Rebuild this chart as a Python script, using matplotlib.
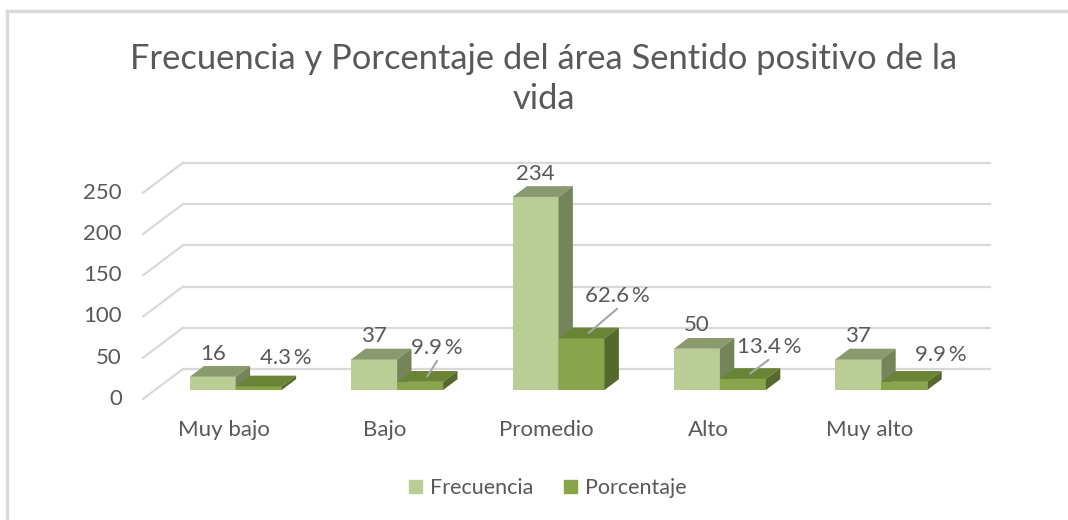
import numpy as np
import matplotlib
matplotlib.use('Agg')
import matplotlib.pyplot as plt
from matplotlib.patches import Polygon, Patch
from matplotlib.lines import Line2D

# data
categorias = ['Muy bajo', 'Bajo', 'Promedio', 'Alto', 'Muy alto']
frecuencia = [16, 37, 234, 50, 37]
porcentaje = [4.3, 9.9, 62.6, 13.4, 9.9]
ticks_y = [0, 50, 100, 150, 200, 250]
titulo = 'Frecuencia y Porcentaje del área Sentido positivo de la\nvida'

plt.rcParams['font.family'] = ['Lato', 'DejaVu Sans']
gris = '#595959'
grid_c = '#d9d9d9'

W, H = 1068, 520
fig = plt.figure(figsize=(W / 100, H / 100), dpi=100)
ax = fig.add_axes([0, 0, 1, 1])

# pixel mapping of the front floor: x=-0.5 at px 143, 161.4 px per category
# y=0 at px 399 (from top), 0.825 px per unit
px_cat, x0px = 161.4, 143
px_val, y0px = 0.825, 399
ax.set_xlim((0 - x0px) / px_cat - 0.5, (W - x0px) / px_cat - 0.5)
ax.set_ylim((y0px - H) / px_val, y0px / px_val)
ax.axis('off')

# depth of the floor
Dx, Dy = 40 / px_cat, 30 / px_val
n = len(categorias)

# walls / gridlines
for v in ticks_y:
    ax.plot([-0.5 + Dx, n - 0.5 + Dx], [v + Dy, v + Dy], color=grid_c, lw=1.6, zorder=1)
    ax.plot([-0.5, -0.5 + Dx], [v, v + Dy], color=grid_c, lw=1.6, zorder=1)
    ax.text(-0.63, v, str(v), ha='right', va='center', fontsize=16, color=gris)

# bars
f0, fb = 0.3, 0.36
w = 46 / px_cat
c_freq = ('#b9cd94', '#8a9a6e', '#76845a')
c_pct = ('#88a54c', '#6a8436', '#56692c')


def bar3d(xl, h, cols):
    xr = xl + w
    y0 = f0 * Dy
    bx, by = fb * Dx, fb * Dy
    ax.bar(xl, h, width=w, bottom=y0, align='edge', color=cols[0], lw=0, zorder=3)
    ax.add_patch(Polygon([(xl, y0 + h), (xr, y0 + h), (xr + bx, y0 + h + by), (xl + bx, y0 + h + by)],
                         closed=True, color=cols[1], lw=0, zorder=3))
    ax.add_patch(Polygon([(xr, y0), (xr + bx, y0 + by), (xr + bx, y0 + h + by), (xr, y0 + h)],
                         closed=True, color=cols[2], lw=0, zorder=3))


# label offsets for the percentage labels (points), and leader lines
pct_off = [(14.6, 16.5), (6.5, 20.5), (20.5, 26.6), (13.7, 19), (21.4, 15.5)]
leader = [False, True, True, True, False]

for i in range(n):
    c = i + f0 * Dx
    bar3d(c - w, frecuencia[i], c_freq)
    bar3d(c, porcentaje[i], c_pct)
    ax.annotate(str(frecuencia[i]), (c - w / 2, f0 * Dy + frecuencia[i] + fb * Dy),
                xytext=(0, 9), textcoords='offset points', ha='center', va='center',
                fontsize=16, color=gris, zorder=5)
    tx = c + w / 2 + fb * Dx / 2
    ty = f0 * Dy + porcentaje[i] + fb * Dy / 2
    lab = ('%.1f' % porcentaje[i]) + '\u2009%'
    if leader[i]:
        ax.annotate(lab, (tx, ty), xytext=pct_off[i], textcoords='offset points',
                    ha='center', va='center', fontsize=16, color=gris, zorder=5,
                    arrowprops=dict(arrowstyle='-', color='#a6a6a6', lw=1.5,
                                    relpos=(0.55, 0), shrinkA=0, shrinkB=0))
    else:
        ax.annotate(lab, (tx, ty), xytext=pct_off[i], textcoords='offset points',
                    ha='center', va='center', fontsize=16, color=gris, zorder=5)
    ax.text(i, -38, categorias[i], ha='center', va='center', fontsize=16, color=gris)

fig.text(544 / W, 1 - 79 / H, titulo, ha='center', va='center', fontsize=24.8,
         color=gris, linespacing=1.3)

handles = [Patch(color=c_freq[0], label='Frecuencia'), Patch(color=c_pct[0], label='Porcentaje')]
fig.legend(handles=handles, loc='center', bbox_to_anchor=(548 / W, 1 - 488 / H), ncol=2,
           frameon=False, fontsize=15.5, handlelength=0.6, handleheight=0.6,
           handletextpad=0.4, columnspacing=1.4, labelcolor=gris)

# chart border
fig.add_artist(Line2D([7 / W, 7 / W], [0, 1 - 11 / H], color=grid_c, lw=2.5))
fig.add_artist(Line2D([7 / W, 1], [1 - 11 / H, 1 - 11 / H], color=grid_c, lw=2.5))

fig.savefig('out.png', dpi=100)
